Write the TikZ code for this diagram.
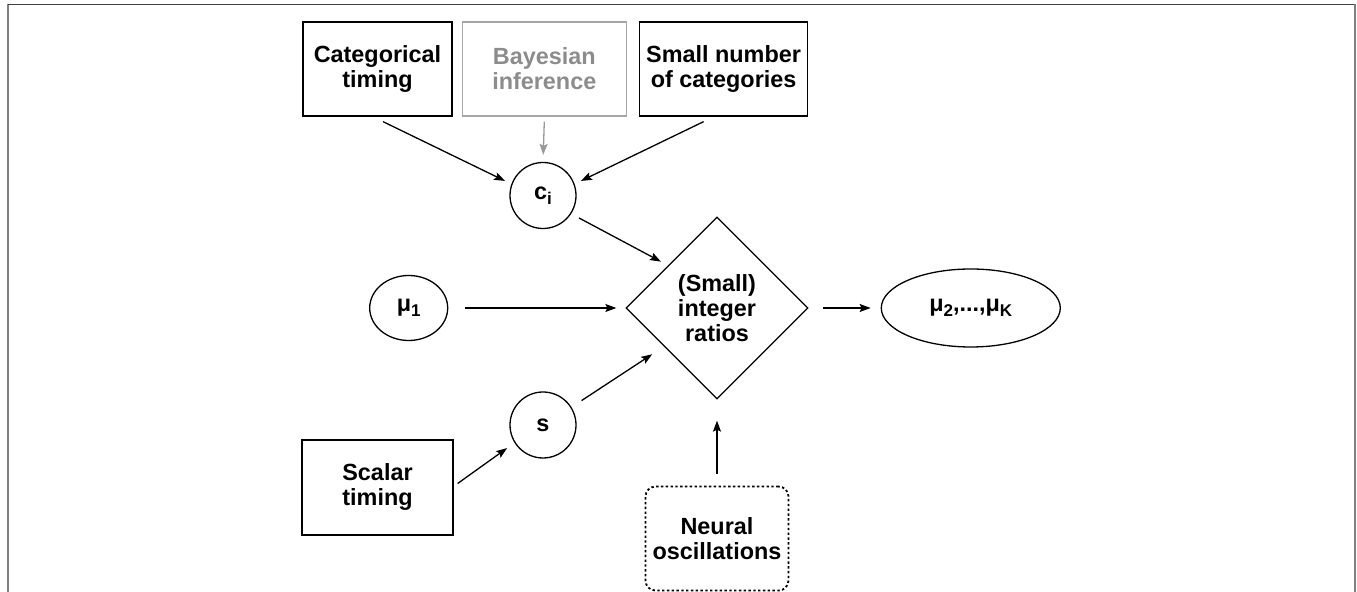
\documentclass[tikz,border=0pt]{standalone}
\usepackage{fontspec}
\setmainfont{Liberation Sans}
\usetikzlibrary{arrows.meta, positioning, shapes.geometric}

\newcommand{\lowidx}[1]{\raisebox{-0.45ex}{\fontsize{8.5}{8.5}\selectfont #1}}

\tikzset{
  box/.style={draw, rectangle, align=center, minimum height=47pt, inner sep=2pt, line width=0.65pt},
  greybox/.style={draw=black!35, text=black!45},
  var/.style={draw, circle, minimum size=33pt, inner sep=0pt, line width=0.65pt},
  oval/.style={draw, ellipse, inner sep=0pt, line width=0.65pt},
  arr/.style={-{Stealth[length=5.5pt, width=4pt, inset=1pt]}, line width=0.65pt, shorten >=4pt},
}

\begin{document}
\begin{tikzpicture}[x=0.5pt, y=-0.5pt, font=\fontsize{11.7}{12.5}\selectfont\bfseries]
\useasboundingbox (0,0) rectangle (1357,592);
% frame
\draw[black!50, line width=0.75pt] (8,592) -- (8,4.5);
\draw[black!75, line width=0.75pt] (8,4.5) -- (1355,4.5);
\draw[black!50, line width=0.75pt] (1355,4.5) -- (1355,592);

% top row
\node [box, minimum width=74.5pt] (cat) at (377.5,69) {Categorical\\timing};
\node [box, greybox, minimum width=82pt, right=4.5pt of cat] (bay) {Bayesian\\inference};
\node [box, minimum width=84pt, right=6pt of bay] (small) {Small number\\of categories};

\node [var] (ci) at (543,195.5) {c\lowidx{i}};
\node [draw, diamond, aspect=1, minimum width=91pt, minimum height=91pt, inner sep=0pt, align=center, line width=0.65pt] (dia) at (717,308) {(Small)\\integer\\ratios};
\node [oval, minimum width=39pt, minimum height=32.5pt, left=88.5pt of dia] (mu1) {μ\lowidx{1}};
\node [oval, minimum width=89.5pt, minimum height=39pt, right=36pt of dia] (out) {μ\lowidx{2},...,μ\lowidx{K}};
\node [var] (s) at (543,425) {s};
\node [box, minimum width=75.5pt, minimum height=47.5pt] (scalar) at (377.5,487.5) {Scalar\\timing};
\node [box, rounded corners=5pt, dash pattern=on 1.2pt off 1.2pt, line width=0.9pt, minimum width=71.5pt, minimum height=52pt, below=43pt of dia] (neural) {Neural\\oscillations};

% arrows into c_i
\draw[arr, shorten >=3.5pt] ([shift={(5.5,5)}]cat.south) -- (ci.160);
\draw[arr, black!40, shorten >=3.5pt] ([yshift=-2.5pt]bay.south) -- (ci.north);
\draw[arr, shorten >=3.5pt] ([shift={(-20,5)}]small.south) -- (ci.20);

% arrows into the ratios
\draw[arr, shorten <=4.4pt] (ci.-33) -- (dia.139);
\draw[arr, shorten <=8.5pt, shorten >=4.5pt] (mu1.east) -- (dia.west);
\draw[arr, shorten <=6pt, shorten >=7pt] (s.32) -- (dia.216);
\draw[arr, shorten >=4.5pt] ([shift={(4,-4)}]scalar.east) -- (s.212);
\draw[arr, shorten <=6pt, shorten >=10.5pt] (neural.north) -- (dia.south);
\draw[arr, shorten <=7pt, shorten >=5pt] (dia.east) -- (out.west);
\end{tikzpicture}
\end{document}
